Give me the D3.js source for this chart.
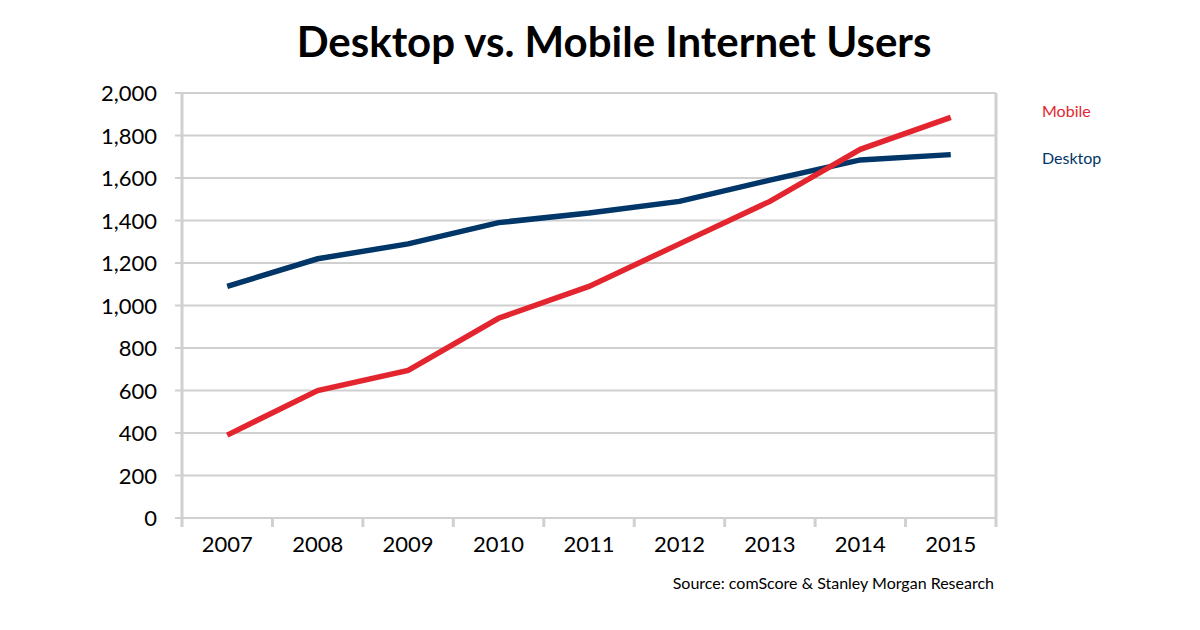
<!DOCTYPE html>
<html>
<head>
<meta charset="utf-8">
<script src="https://cdn.jsdelivr.net/npm/d3@7"></script>
<style>
  body { margin: 0; background: #fff; }
  svg { font-family: Lato, "Open Sans", sans-serif; }
</style>
</head>
<body>
<svg width="1200" height="630"></svg>
<script>
const years = ["2007", "2008", "2009", "2010", "2011", "2012", "2013", "2014", "2015"];
const mobile = [390, 600, 695, 940, 1090, 1290, 1490, 1735, 1885];
const desktop = [1090, 1220, 1290, 1390, 1435, 1490, 1590, 1685, 1710];
const yTicks = [0, 200, 400, 600, 800, 1000, 1200, 1400, 1600, 1800, 2000];

const svg = d3.select("svg");
const plotLeft = 182, plotRight = 996, plotTop = 93, plotBottom = 518;

const x = d3.scaleBand().domain(years).range([plotLeft, plotRight]);
const y = d3.scaleLinear().domain([0, 2000]).range([plotBottom, plotTop]);

// title
svg.append("text")
    .attr("x", 614).attr("y", 57)
    .attr("text-anchor", "middle")
    .style("font-size", "42px")
    .style("font-weight", "bold")
    .style("fill", "#000")
    .text("Desktop vs. Mobile Internet Users");

// gridlines
svg.append("g").selectAll("line")
    .data(yTicks)
    .enter().append("line")
    .attr("x1", plotLeft - 7).attr("x2", plotRight)
    .attr("y1", d => y(d)).attr("y2", d => y(d))
    .style("stroke", "#d0d0d0")
    .style("stroke-width", 2);

// y axis labels
svg.append("g").selectAll("text")
    .data(yTicks)
    .enter().append("text")
    .attr("x", 157)
    .attr("y", d => y(d) + 8)
    .attr("text-anchor", "end")
    .style("font-size", "22px")
    .style("fill", "#000")
    .text(d => d3.format(",")(d));

// axis frame lines
svg.append("line")
    .attr("x1", plotLeft).attr("x2", plotLeft)
    .attr("y1", plotTop).attr("y2", plotBottom + 9)
    .style("stroke", "#d0d0d0").style("stroke-width", 3);
svg.append("line")
    .attr("x1", plotRight).attr("x2", plotRight)
    .attr("y1", plotTop).attr("y2", plotBottom + 9)
    .style("stroke", "#d0d0d0").style("stroke-width", 3);

// x ticks between categories
svg.append("g").selectAll("line")
    .data(years.slice(1))
    .enter().append("line")
    .attr("x1", d => x(d)).attr("x2", d => x(d))
    .attr("y1", plotBottom).attr("y2", plotBottom + 9)
    .style("stroke", "#d0d0d0")
    .style("stroke-width", 3);

// x labels
svg.append("g").selectAll("text")
    .data(years)
    .enter().append("text")
    .attr("x", d => x(d) + x.bandwidth() / 2)
    .attr("y", 552)
    .attr("text-anchor", "middle")
    .style("font-size", "22px")
    .style("fill", "#000")
    .text(d => d);

// lines
const line = d3.line()
    .x((d, i) => x(years[i]) + x.bandwidth() / 2)
    .y(d => y(d));

svg.append("path")
    .datum(desktop)
    .attr("d", line)
    .style("fill", "none")
    .style("stroke", "#003668")
    .style("stroke-width", 5.5);

svg.append("path")
    .datum(mobile)
    .attr("d", line)
    .style("fill", "none")
    .style("stroke", "#e3252f")
    .style("stroke-width", 5.5);

// legend
svg.append("text")
    .attr("x", 1042).attr("y", 117)
    .style("font-size", "16px")
    .style("fill", "#e3252f")
    .text("Mobile");
svg.append("text")
    .attr("x", 1042).attr("y", 164)
    .style("font-size", "16px")
    .style("fill", "#003668")
    .text("Desktop");

// source
svg.append("text")
    .attr("x", 994).attr("y", 589)
    .attr("text-anchor", "end")
    .style("font-size", "16px")
    .style("fill", "#000")
    .text("Source: comScore & Stanley Morgan Research");
</script>
</body>
</html>
